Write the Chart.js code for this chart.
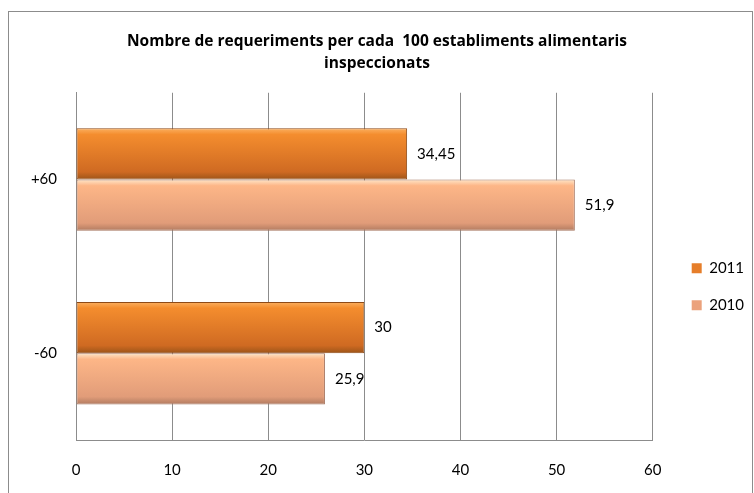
<!DOCTYPE html>
<html>
<head>
<meta charset="utf-8">
<script src="https://cdn.jsdelivr.net/npm/chart.js@4"></script>
<style>
  html, body { margin: 0; padding: 0; background: #fff; }
  #wrap { width: 754px; height: 493px; }
</style>
</head>
<body>
<div id="wrap"><canvas id="grafic" width="754" height="493"></canvas></div>
<script>
// Dades del gràfic
const categories = ['+60', '-60'];
const anys = ['2011', '2010'];
const valors2011 = [34.45, 30];
const valors2010 = [51.9, 25.9];
const ticksX = [0, 10, 20, 30, 40, 50, 60];

const CAT_PCT = 0.59;
const colorsLlegenda = ['#e67e2a', '#eba27c'];

// degradat vertical per a cada barra
function farciment(colors) {
    return ctx => {
        const chart = ctx.chart;
        const y = chart.scales && chart.scales.y;
        if (!y || ctx.type !== 'data' || !y.height) return colors[1];
        const centre = y.getPixelForValue(ctx.dataIndex);
        const mitja = (y.height / categories.length) * CAT_PCT / 2;
        const y0 = ctx.datasetIndex === 0 ? centre - mitja : centre;
        const g = chart.ctx.createLinearGradient(0, y0, 0, y0 + mitja);
        g.addColorStop(0, colors[0]);
        g.addColorStop(0.12, colors[1]);
        g.addColorStop(0.85, colors[2]);
        g.addColorStop(1, colors[3]);
        return g;
    };
}

const vora = {
    id: 'vora',
    beforeDraw(chart) {
        const c = chart.ctx;
        c.save();
        c.fillStyle = '#fff';
        c.fillRect(0, 0, chart.width, chart.height);
        c.strokeStyle = '#8c8c8c';
        c.lineWidth = 1;
        c.strokeRect(8.5, 11.5, 744, 500);
        c.restore();
    }
};

const etiquetes = {
    id: 'etiquetes',
    afterDatasetsDraw(chart) {
        const c = chart.ctx;
        c.save();
        c.font = '15px Lato';
        c.fillStyle = '#000';
        c.textBaseline = 'middle';
        c.textAlign = 'left';
        chart.data.datasets.forEach((ds, i) => {
            chart.getDatasetMeta(i).data.forEach((bar, j) => {
                c.fillText(String(ds.data[j]).replace('.', ','), bar.x + 10, bar.y);
            });
        });
        c.restore();
    }
};

new Chart(document.getElementById('grafic'), {
    type: 'bar',
    data: {
        labels: categories,
        datasets: [
            {
                label: anys[0],
                data: valors2011,
                backgroundColor: farciment(['#fbb060', '#f48d2e', '#cf6a22', '#9c5418']),
                borderColor: '#8e4a16',
                borderWidth: 1,
                borderSkipped: false
            },
            {
                label: anys[1],
                data: valors2010,
                backgroundColor: farciment(['#ffe6c8', '#fdb687', '#e19c79', '#b07a60']),
                borderColor: '#a5735c',
                borderWidth: 1,
                borderSkipped: false
            }
        ]
    },
    options: {
        indexAxis: 'y',
        responsive: false,
        animation: false,
        barPercentage: 1,
        categoryPercentage: CAT_PCT,
        layout: { padding: { left: 0, right: 0, top: 0, bottom: 0 } },
        scales: {
            x: {
                min: 0,
                max: 60,
                afterBuildTicks: s => { s.ticks = ticksX.map(v => ({ value: v })); },
                afterFit: s => { s.height = 53; },
                grid: { color: '#8c8c8c', drawTicks: false },
                border: { color: '#8c8c8c', width: 1 },
                ticks: { padding: 21, color: '#000', font: { family: 'Lato', size: 15 } }
            },
            y: {
                afterFit: s => { s.width = 76; },
                grid: { display: false, drawTicks: false },
                border: { color: '#8c8c8c', width: 1 },
                ticks: { padding: 19, color: '#000', font: { family: 'Lato', size: 15 } }
            },
            // espai buit entre l'àrea del gràfic i la llegenda
            espai: {
                type: 'linear',
                position: 'right',
                afterFit: s => { s.width = 17; },
                grid: { display: false },
                border: { display: false },
                ticks: { display: false }
            }
        },
        plugins: {
            title: {
                display: true,
                text: ['Nombre de requeriments per cada  100 establiments alimentaris', 'inspeccionats'],
                color: '#000',
                font: { family: 'Open Sans', size: 15.5, weight: 'bold', lineHeight: 1.38 },
                padding: { top: 31, bottom: 19 }
            },
            legend: {
                position: 'right',
                maxWidth: 86,
                title: { display: true, text: ' ', font: { size: 12 }, padding: { top: 66, bottom: 0 } },
                labels: {
                    boxWidth: 10,
                    boxHeight: 10,
                    padding: 22,
                    color: '#000',
                    font: { family: 'Lato', size: 15 },
                    generateLabels: chart => Chart.defaults.plugins.legend.labels.generateLabels(chart)
                        .map((it, i) => Object.assign(it, { fillStyle: colorsLlegenda[i], strokeStyle: colorsLlegenda[i], lineWidth: 0 }))
                }
            },
            tooltip: { enabled: false }
        }
    },
    plugins: [vora, etiquetes]
});
</script>
</body>
</html>
